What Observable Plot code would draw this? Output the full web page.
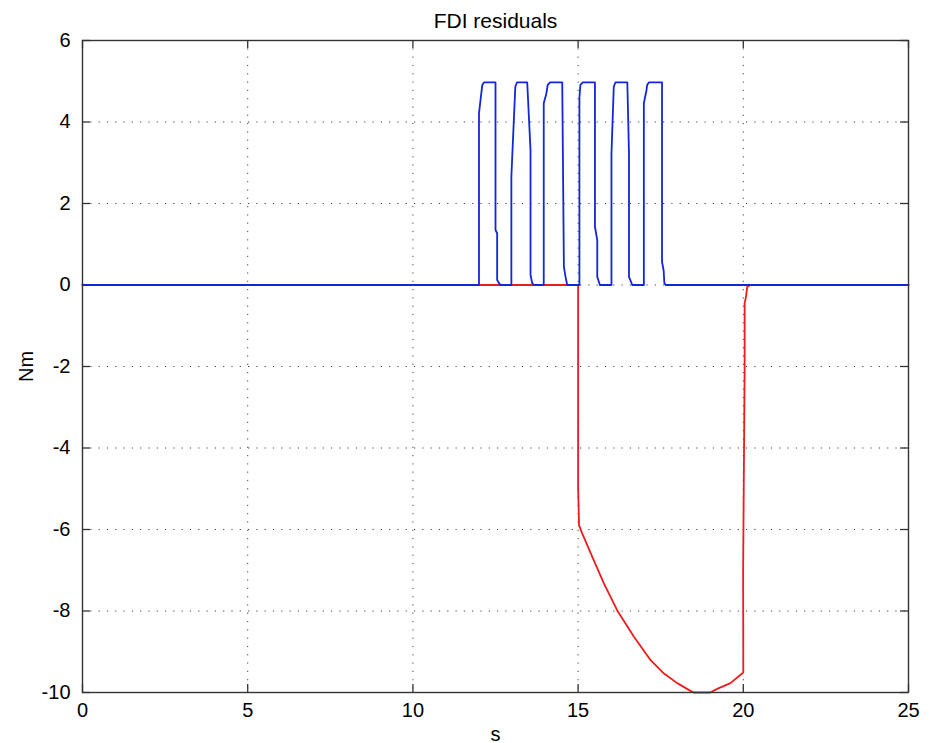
<!DOCTYPE html>
<html>
<head>
<meta charset="utf-8">
<script src="https://cdn.jsdelivr.net/npm/d3@7"></script>
<script src="https://cdn.jsdelivr.net/npm/@observablehq/plot@0.6"></script>
<style>
  html, body { margin: 0; padding: 0; background: #fff; }
  #chart { width: 937px; height: 743px; }
</style>
</head>
<body>
<div id="chart"></div>
<script>
// ---- data ----
const title = "FDI residuals";
const xLabel = "s";
const yLabel = "Nm";
const xTicks = [0, 5, 10, 15, 20, 25];
const yTicks = [-10, -8, -6, -4, -2, 0, 2, 4, 6];

// blue residual (time s, value Nm)
const blueT = [0, 12.0, 12.0, 12.10, 12.15, 12.50, 12.50, 12.55, 12.55, 12.63, 12.66,
  12.98, 12.98, 13.10, 13.15, 13.46, 13.56, 13.56, 13.61, 13.66,
  13.96, 13.96, 14.04, 14.08, 14.15, 14.52, 14.57, 14.62, 14.67,
  15.04, 15.04, 15.07, 15.14, 15.51, 15.51, 15.58, 15.58, 15.66,
  16.01, 16.01, 16.08, 16.13, 16.49, 16.54, 16.54, 16.64,
  16.99, 16.99, 17.07, 17.09, 17.14, 17.54, 17.54, 17.59, 17.61, 17.65, 25];
const blueV = [0, 0, 4.21, 4.91, 4.97, 4.97, 1.35, 1.27, 0.12, 0.02, 0,
  0, 2.66, 4.87, 4.97, 4.97, 3.31, 0.25, 0.05, 0,
  0, 4.46, 4.70, 4.91, 4.97, 4.97, 0.45, 0.2, 0,
  0, 4.6, 4.91, 4.97, 4.97, 1.43, 1.10, 0.2, 0,
  0, 3.23, 4.87, 4.97, 4.97, 3.23, 0.2, 0,
  0, 4.46, 4.78, 4.91, 4.97, 4.97, 0.57, 0.35, 0.05, 0, 0];

// red residual (time s, value Nm)
const redT = [0, 15.0, 15.0, 15.03, 15.12, 15.38, 15.78, 16.18, 16.69, 17.19, 17.59, 18.0,
  18.40, 18.5, 19.0, 19.21, 19.61, 20.0, 19.995, 20.04, 20.04, 20.08, 20.12, 20.22, 25];
const redV = [0, 0, -4.95, -5.9, -6.09, -6.58, -7.32, -7.98, -8.63, -9.20, -9.53, -9.77,
  -9.96, -10, -10, -9.91, -9.77, -9.51, -7.0, -2.1, -0.45, -0.29, -0.04, 0, 0];

const blue = blueT.map((t, i) => ({t, v: blueV[i]}));
const red = redT.map((t, i) => ({t, v: redV[i]}));

const W = 937, H = 743;
const mL = 82, mR = 29, mT = 40, mB = 51;
const innerW = W - mL - mR, innerH = H - mT - mB;
const tickLen = 8;
const gridStyle = {stroke: "#222", strokeOpacity: 0.85, strokeWidth: 1, strokeDasharray: "1.2,7.1"};
const tickStyle = {stroke: "#333", strokeWidth: 1.3};

const chart = Plot.plot({
  width: W,
  height: H,
  marginLeft: mL,
  marginRight: mR,
  marginTop: mT,
  marginBottom: mB,
  style: {fontFamily: "'Liberation Sans', Arial, Helvetica, sans-serif", fontSize: "20px", background: "#fff", color: "#000"},
  x: {domain: [0, 25]},
  y: {domain: [-10, 6]},
  marks: [
    Plot.gridX(xTicks.slice(1, -1), gridStyle),
    Plot.gridY(yTicks.slice(1, -1), gridStyle),
    Plot.axisX({ticks: xTicks, tickSize: 0, tickPadding: 10, fontSize: 20, label: xLabel, labelAnchor: "center", labelArrow: "none", labelOffset: 48, tickFormat: d => String(d)}),
    Plot.axisY({ticks: yTicks, tickSize: 0, tickPadding: 12, fontSize: 20, label: yLabel, labelAnchor: "center", labelArrow: "none", labelOffset: 64, tickFormat: d => String(d)}),
    // inward tick marks on all four sides
    Plot.tickX(xTicks, {x: d => d, insetTop: innerH - tickLen, ...tickStyle}),
    Plot.tickX(xTicks, {x: d => d, insetBottom: innerH - tickLen, ...tickStyle}),
    Plot.tickY(yTicks, {y: d => d, insetRight: innerW - tickLen, ...tickStyle}),
    Plot.tickY(yTicks, {y: d => d, insetLeft: innerW - tickLen, ...tickStyle}),
    Plot.line(red, {x: "t", y: "v", stroke: "#ee1c1c", strokeWidth: 1.8, curve: "linear"}),
    Plot.line(blue, {x: "t", y: "v", stroke: "#1326dc", strokeWidth: 1.8, curve: "linear"}),
    Plot.frame({stroke: "#333", strokeWidth: 1.4}),
    Plot.text([title], {frameAnchor: "top", dy: -13, text: d => d, fontSize: 21, fill: "#000", lineAnchor: "bottom"})
  ]
});
document.getElementById("chart").appendChild(chart);
</script>
</body>
</html>
